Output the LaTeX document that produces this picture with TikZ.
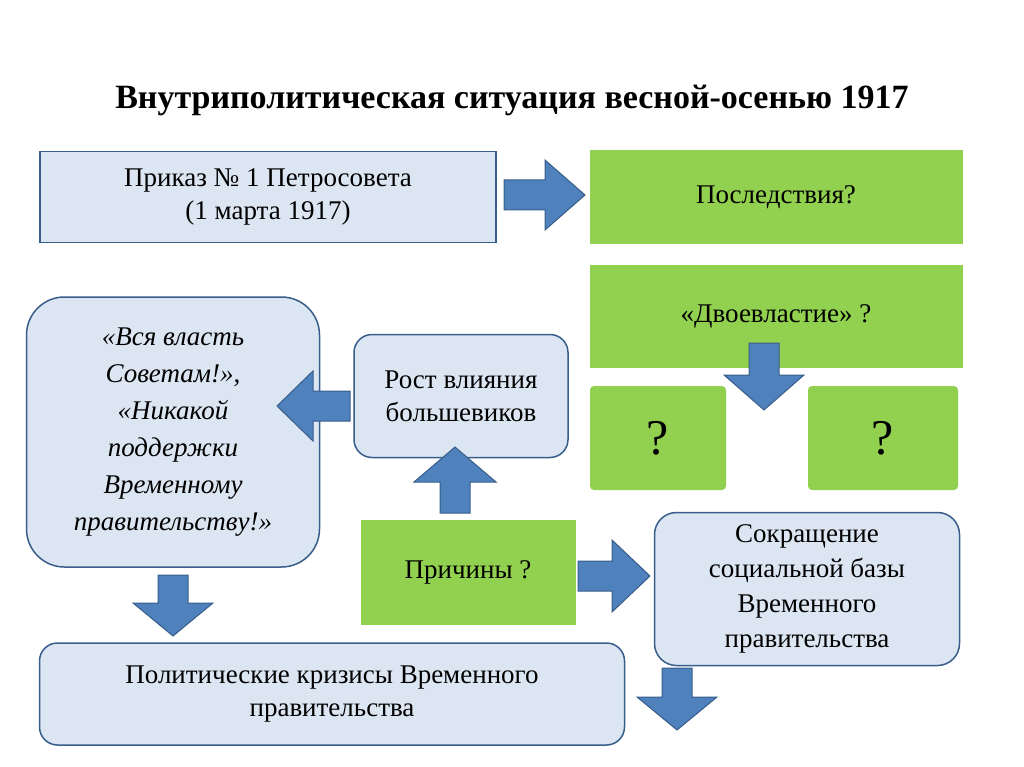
\documentclass[tikz,border=0pt]{standalone}
\usepackage{fontspec}
\setmainfont{Liberation Serif}
\begin{document}
\begin{tikzpicture}[x=1pt,y=-1pt,
  bl/.style={draw=arrD,line width=1.5pt,fill=blueF,align=center,font=\fontsize{27}{33}\selectfont},
  gr/.style={fill=greenF,draw=none,align=center,font=\fontsize{27}{33}\selectfont},
  arr/.style={fill=arrF,draw=arrD,line width=1pt}]
\definecolor{blueF}{HTML}{DCE6F2}
\definecolor{greenF}{HTML}{92D050}
\definecolor{arrF}{HTML}{4F81BD}
\definecolor{arrD}{HTML}{385D8A}
\useasboundingbox (0,0) rectangle (1024,767);
\node[font=\bfseries\fontsize{34}{40}\selectfont] (title) at (512,100) {Внутриполитическая ситуация весной-осенью 1917};
\node[bl,minimum width=456,minimum height=91] (b1) at (268,197) {Приказ № 1 Петросовета\\(1 марта 1917)};
\node[gr,minimum width=373,minimum height=93] (g1) at (776,197) {Последствия?};
\node[gr,minimum width=373,minimum height=103] (g2) at (776,316) {«Двоевластие» ?};
\node[gr,minimum width=136,minimum height=104,rounded corners=4,font=\fontsize{50}{54}\selectfont] (q1) at (658,438) {?};
\node[gr,minimum width=150,minimum height=104,rounded corners=4,font=\fontsize{50}{54}\selectfont] (q2) at (883,438) {?};
\node[bl,rounded corners=38,minimum width=293,minimum height=270,font=\itshape\fontsize{27}{37}\selectfont] (left) at (173,432) {«Вся власть\\Советам!»,\\«Никакой\\поддержки\\Временному\\правительству!»};
\node[bl,rounded corners=18,minimum width=214,minimum height=123] (rost) at (461,396) {Рост влияния\\большевиков};
\node[gr,minimum width=215,minimum height=105] (pr) at (468,572) {Причины ?};
\node[bl,rounded corners=22,minimum width=305,minimum height=153,font=\fontsize{27}{35}\selectfont] (sokr) at (807,589) {Сокращение\\социальной базы\\Временного\\правительства};
\node[bl,rounded corners=18,minimum width=585,minimum height=102] (pol) at (332,694) {Политические кризисы Временного\\правительства};
% arrows
\draw[arr] (504,180)--(545,180)--(545,160)--(585,195)--(545,230)--(545,210)--(504,210)--cycle;
\draw[arr] (350,391)--(313,391)--(313,371)--(277,406)--(313,441)--(313,421)--(350,421)--cycle;
\draw[arr] (440,513)--(440,482)--(414,482)--(455,447)--(496,482)--(470,482)--(470,513)--cycle;
\draw[arr] (578,561)--(612,561)--(612,540)--(650,576)--(612,612)--(612,591)--(578,591)--cycle;
\draw[arr] (749,343)--(779,343)--(779,375)--(804,375)--(764,410)--(724,375)--(749,375)--cycle;
\draw[arr] (158,575)--(188,575)--(188,603)--(213,603)--(173,636)--(133,603)--(158,603)--cycle;
\draw[arr] (662,668)--(692,668)--(692,697)--(717,697)--(677,730)--(637,697)--(662,697)--cycle;
\end{tikzpicture}
\end{document}
